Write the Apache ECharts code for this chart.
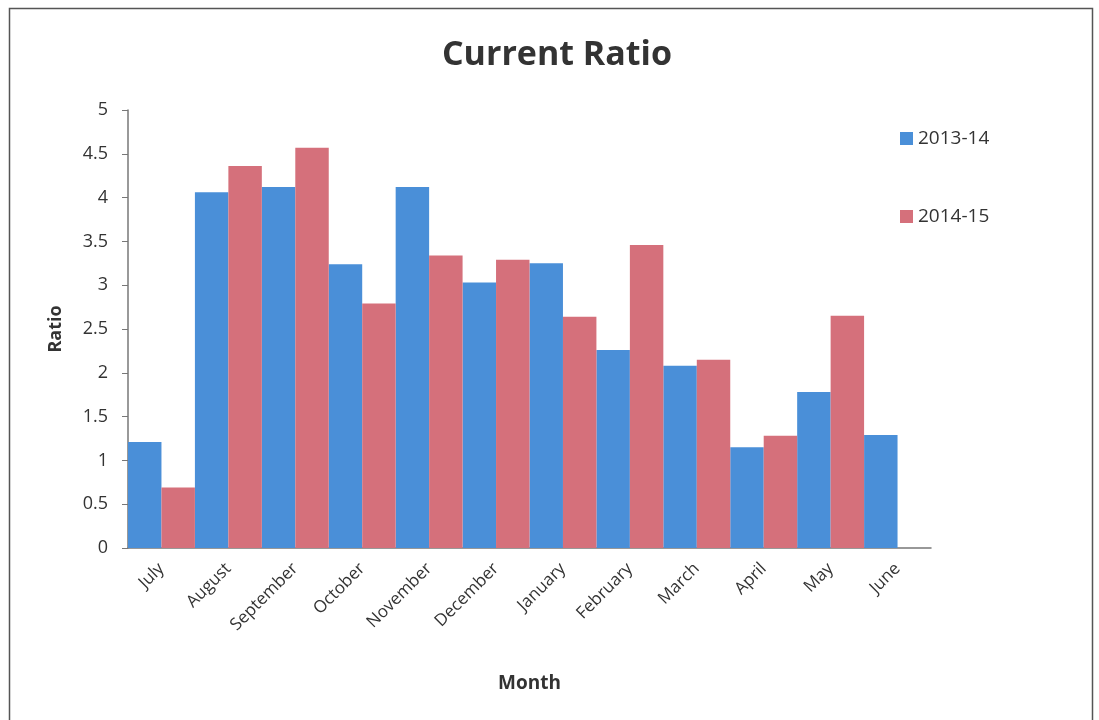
<!DOCTYPE html>
<html>
<head>
<meta charset="utf-8">
<script src="https://cdn.jsdelivr.net/npm/echarts@6/dist/echarts.min.js"></script>
<style>
html,body{margin:0;padding:0;background:#fff;}
#main{width:1099px;height:720px;}
</style>
</head>
<body>
<div id="main"></div>
<script>
var months = ['July','August','September','October','November','December','January','February','March','April','May','June'];
var fy1314 = [1.21, 4.06, 4.12, 3.24, 4.12, 3.03, 3.25, 2.26, 2.08, 1.15, 1.78, 1.29];
var fy1415 = [0.69, 4.36, 4.57, 2.79, 3.34, 3.29, 2.64, 3.46, 2.15, 1.28, 2.65, null];
var yTicks = [0, 0.5, 1, 1.5, 2, 2.5, 3, 3.5, 4, 4.5, 5];

var FONT = '"Open Sans", "Liberation Sans", sans-serif';
var chart = echarts.init(document.getElementById('main'), null, {renderer: 'canvas'});
chart.setOption({
  animation: false,
  backgroundColor: '#fff',
  textStyle: {fontFamily: FONT},
  graphic: [{
    type: 'rect',
    shape: {x: 9.5, y: 8.5, width: 1083, height: 730},
    style: {fill: 'none', stroke: '#555', lineWidth: 1.5},
    silent: true
  }],
  title: {
    text: 'Current Ratio',
    left: 552, top: 33, textAlign: 'center',
    textStyle: {fontFamily: FONT, fontSize: 34, fontWeight: 'bold', color: '#333'}
  },
  legend: {
    orient: 'vertical',
    left: 895, top: 124,
    itemWidth: 13, itemHeight: 13, itemGap: 59,
    icon: 'rect',
    textStyle: {fontFamily: FONT, fontSize: 19, color: '#333'},
    data: ['2013-14', '2014-15']
  },
  grid: {left: 128, right: 168, top: 110, bottom: 172, containLabel: false},
  xAxis: {
    type: 'category',
    data: months,
    name: 'Month',
    nameLocation: 'middle',
    nameGap: 126,
    nameTextStyle: {fontFamily: FONT, fontSize: 19, fontWeight: 'bold', color: '#333'},
    axisLine: {lineStyle: {color: '#777', width: 1.5}},
    axisTick: {show: false},
    axisLabel: {rotate: 45, fontFamily: FONT, fontSize: 17, color: '#333', margin: 18, interval: 0}
  },
  yAxis: {
    type: 'value',
    min: 0, max: 5, interval: 0.5,
    name: 'Ratio',
    nameLocation: 'middle',
    nameGap: 63,
    nameTextStyle: {fontFamily: FONT, fontSize: 18, fontWeight: 'bold', color: '#333'},
    axisLine: {show: true, lineStyle: {color: '#777', width: 1.5}},
    axisTick: {show: true, length: 6, lineStyle: {color: '#777'}},
    splitLine: {show: false},
    axisLabel: {fontFamily: FONT, fontSize: 18, color: '#333', margin: 20,
      customValues: yTicks,
      formatter: function (v) { return String(v); }}
  },
  series: [
    {name: '2013-14', type: 'bar', data: fy1314, barGap: '0%', barCategoryGap: '0%',
     itemStyle: {color: '#4a8fd8'}},
    {name: '2014-15', type: 'bar', data: fy1415, barGap: '0%', barCategoryGap: '0%',
     itemStyle: {color: '#d5707b'}}
  ]
});
</script>
</body>
</html>
